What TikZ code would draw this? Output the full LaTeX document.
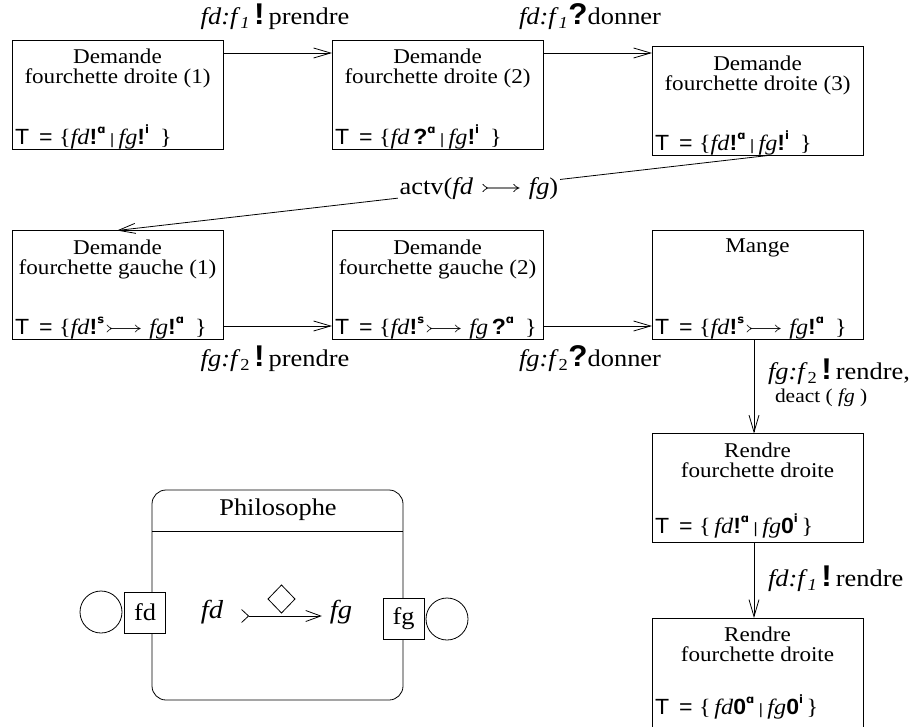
\documentclass[tikz,border=0pt]{standalone}
\usepackage{amssymb}
\usepackage{graphicx}
\usepackage{fontspec}
\setmainfont{Liberation Serif}[FakeStretch=1.1]
\setsansfont{Liberation Sans}[FakeStretch=1.05]
\newfontfamily\supf{DejaVu Sans}
\usetikzlibrary{arrows.meta,shapes.geometric}
\newcommand{\xfd}{\textit{fd}}
\newcommand{\xfg}{\textit{fg}}
\newcommand{\bng}{{\sffamily\bfseries !}}
\newcommand{\qm}{{\sffamily\bfseries ?}}
\newcommand{\zer}{{\sffamily\bfseries 0}}
\newcommand{\supx}[1]{\raisebox{0.5em}{\supf\bfseries\fontsize{11.5}{11.5}\selectfont #1}}
\newcommand{\sa}{\supx{ɑ}}
\newcommand{\si}{\supx{i}}
\newcommand{\ssup}{\supx{s}}
\newcommand{\vb}{{\sffamily\fontsize{15}{15}\selectfont\hspace{0.3em}|\hspace{0.3em}}}
\newcommand{\tailar}{\scalebox{1.6}[1]{$\rightarrowtail$}}
\newcommand{\Tf}[1]{{\sffamily T\hspace{0.45em}=\hspace{0.3em}}\{#1\}}
\newcommand{\bigbang}{{\sffamily\bfseries\fontsize{30}{30}\selectfont !}}
\newcommand{\bigq}{{\sffamily\bfseries\fontsize{30}{30}\selectfont ?}}
\newcommand{\fdone}{\textit{fd:f}\textsubscript{\textit{1}}}
\newcommand{\fgtwo}{\textit{fg:f}\textsubscript{2}}
\begin{document}
\begin{tikzpicture}[x=1pt,y=-1pt,
  every node/.style={inner sep=0pt, outer sep=0pt},
  box/.style={draw, line width=0.8pt, minimum width=211pt, minimum height=109pt},
  ttl/.style={align=center, font=\fontsize{21}{20}\selectfont, anchor=north},
  tset/.style={anchor=base west, font=\fontsize{22}{22}\selectfont},
  elab/.style={font=\fontsize{24}{26}\selectfont},
  smalllab/.style={font=\fontsize{19.5}{20}\selectfont},
  ln/.style={line width=0.8pt},
  arr/.style={ln, -{Straight Barb[length=17pt,width=10pt]}},
]
\useasboundingbox (0,0) rectangle (917,726);

% state boxes
\node[box] (b1) at (117.5,94.5) {};
\node[box] (b2) at (437.5,94.5) {};
\node[box] (b3) at (757.5,101) {};
\node[box] (b4) at (117.5,285) {};
\node[box] (b5) at (437.5,285) {};
\node[box] (b6) at (757.5,284.5) {};
\node[box] (b7) at (757.5,488) {};
\node[box] (b8) at (757.5,672.5) {};

\node[ttl] (t1) at ([yshift=-9pt]b1.north) {Demande\\fourchette droite (1)};
\node[ttl] (t2) at ([yshift=-9pt]b2.north) {Demande\\fourchette droite (2)};
\node[ttl] (t3) at ([yshift=-9pt]b3.north) {Demande\\fourchette droite (3)};
\node[ttl] (t4) at ([yshift=-9pt]b4.north) {Demande\\fourchette gauche (1)};
\node[ttl] (t5) at ([yshift=-9pt]b5.north) {Demande\\fourchette gauche (2)};
\node[ttl] (t6) at ([yshift=-9pt]b6.north) {Mange};
\node[ttl] (t7) at ([yshift=-9pt]b7.north) {Rendre\\fourchette droite};
\node[ttl] (t8) at ([yshift=-9pt]b8.north) {Rendre\\fourchette droite};

\node[tset] (s1) at ([xshift=3pt,yshift=5pt]b1.south west) {\Tf{\xfd\bng\sa\vb\xfg\bng\si\enspace}};
\node[tset] (s2) at ([xshift=3pt,yshift=5pt]b2.south west) {\Tf{\xfd\,\qm\sa\vb\xfg\bng\si\enspace}};
\node[tset] (s3) at ([xshift=3pt,yshift=5pt]b3.south west) {\Tf{\xfd\bng\sa\vb\xfg\bng\si\enspace}};
\node[tset] (s4) at ([xshift=3pt,yshift=5pt]b4.south west) {\Tf{\xfd\bng\ssup\tailar\ \xfg\bng\sa\enspace}};
\node[tset] (s5) at ([xshift=3pt,yshift=5pt]b5.south west) {\Tf{\xfd\bng\ssup\tailar\ \xfg\,\qm\sa\enspace}};
\node[tset] (s6) at ([xshift=3pt,yshift=5pt]b6.south west) {\Tf{\xfd\bng\ssup\tailar\ \xfg\bng\sa\enspace}};
\node[tset] (s7) at ([xshift=3pt,yshift=9pt]b7.south west) {\Tf{\,\xfd\bng\sa\vb\xfg\zer\si\,}};
\node[tset] (s8) at ([xshift=3pt,yshift=13pt]b8.south west) {\Tf{\,\xfd\zer\sa\vb\xfg\zer\si\,}};

% transitions
\draw[arr] ([yshift=41.5pt]b1.east) -- ([yshift=41.5pt]b2.west);
\draw[arr] ([yshift=41.5pt]b2.east) -- ([yshift=41.5pt]b2.east -| b3.west);
\node[elab] (l1) at (275,17) {\fdone\,\bigbang\,prendre};
\node[elab] (l2) at (590,17) {\fdone\bigq donner};

\draw[arr] ([xshift=10.5pt]b3.south) -- ([xshift=-0.5pt]b4.north)
  node[elab, pos=0.444, fill=white, inner sep=2pt] (la) {actv(\xfd\ \tailar\ \xfg)};

\draw[arr] ([yshift=-41pt]b4.east) -- ([yshift=-41pt]b5.west);
\draw[arr] ([yshift=-41pt]b5.east) -- ([yshift=-41pt]b5.east -| b6.west);
\node[elab] (l3) at (275,359) {\fgtwo\,\bigbang\,prendre};
\node[elab] (l4) at (590,359) {\fgtwo\bigq donner};

\draw[arr] ([xshift=-3.5pt]b6.south) -- ([xshift=-3.5pt]b7.north);
\node[elab, anchor=west] (l5) at (768,372) {\fgtwo\,\bigbang\,rendre,};
\node[smalllab, anchor=west] (l6) at (775,398) {deact ( \xfg\ )};
\draw[arr] ([xshift=-3.5pt]b7.south) -- ([xshift=-3.5pt]b8.north);
\node[elab, anchor=west] (l7) at (768,579) {\fdone\,\bigbang\,rendre};

% Philosophe component
\node[draw, ln, rounded corners=14pt, minimum width=251pt, minimum height=210pt] (ph) at (277.5,595) {};
\draw[ln] (ph.west |- 0,531) -- (ph.east |- 0,531);
\node[elab] (pt) at (278,510) {Philosophe};
\node[draw, ln, fill=white, minimum size=41pt, elab] (pfd) at (145,612.5) {fd};
\node[draw, ln, fill=white, minimum size=41pt, elab] (pfg) at (403.5,618.5) {fg};
\node[draw, ln, circle, minimum size=42pt] (cfd) at (101,612) {};
\node[draw, ln, circle, minimum size=42pt] (cfg) at (447,619) {};
\node[elab, font=\fontsize{26}{26}\selectfont] (ifd) at (212,612) {\xfd};
\node[elab, font=\fontsize{26}{26}\selectfont] (ifg) at (341,612) {\xfg};
\draw[ln, {Straight Barb[reversed,length=7pt,width=13pt]}-{Straight Barb[length=15pt,width=11pt]}]
  ([xshift=18pt,yshift=-4pt]ifd.east) -- ([xshift=-8pt,yshift=-4pt]ifg.west);
\node[draw, ln, diamond, minimum width=27pt, minimum height=28pt] (dia) at (281.5,599) {};
\end{tikzpicture}
\end{document}
